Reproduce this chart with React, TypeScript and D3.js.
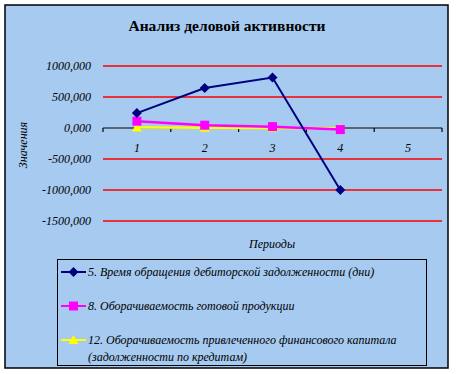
import React from 'react';
import * as d3 from 'd3';

const periods = ['1', '2', '3', '4', '5'];
const yTicks = [1000, 500, 0, -500, -1000, -1500];
const seriesNames = [
  '5. Время обращения дебиторской задолженности (дни)',
  '8. Оборачиваемость готовой продукции',
  '12. Оборачиваемость привлеченного финансового капитала',
];
const debtorDays = [240, 645, 815, -1000];
const goodsTurnover = [110, 45, 22, -25];
const capitalTurnover = [8, 3, 2, -6];

const colors = ['#000080', '#FF00FF', '#FFFF00'];
const serif = "'Liberation Serif', 'DejaVu Serif', serif";

const App: React.FC = () => {
  const W = 456, H = 374;
  const x = d3.scaleBand().domain(periods).range([103, 442]);
  const y = d3.scaleLinear().domain([-1500, 1000]).range([221, 66]);
  const line = d3.line<number>()
    .x((_, i) => x(periods[i])! + x.bandwidth() / 2)
    .y(d => y(d));
  const data = [debtorDays, goodsTurnover, capitalTurnover];
  const fmt = (v: number) => `${v},000`;
  const txt = { fontFamily: serif, fontStyle: 'italic', fontSize: 12 } as React.CSSProperties;

  const marker = (k: number, cx: number, cy: number, key: string) => {
    if (k === 0) return <path key={key} d={`M${cx},${cy - 5}L${cx + 5},${cy}L${cx},${cy + 5}L${cx - 5},${cy}Z`} fill={colors[0]} />;
    if (k === 1) return <rect key={key} x={cx - 4.5} y={cy - 4.5} width={9} height={9} fill={colors[1]} />;
    return <path key={key} d={`M${cx},${cy - 5}L${cx + 5},${cy + 4}L${cx - 5},${cy + 4}Z`} fill={colors[2]} />;
  };

  const legendY = [272, 306, 340];

  return (
    <svg width={W} height={H} style={{ position: 'absolute', left: 0, top: 0 }}>
      <rect x={0} y={0} width={W} height={H} fill="#fff" />
      <rect x={5} y={5} width={443} height={363} fill="#A6CAF0" stroke="#000" strokeWidth={1.5} />
      <text x={227} y={31} textAnchor="middle" style={{ fontFamily: serif, fontWeight: 'bold', fontSize: 15.5 }}>Анализ деловой активности</text>

      {yTicks.filter(t => t !== 0).map(t => (
        <line key={t} x1={103} x2={442} y1={y(t)} y2={y(t)} stroke="#FF0000" strokeWidth={1.5} />
      ))}
      <line x1={103} x2={442} y1={y(0)} y2={y(0)} stroke="#000" strokeWidth={1.2} />
      {[...periods.map(p => x(p)!), 442].map((px, i) => (
        <line key={i} x1={px} x2={px} y1={y(0)} y2={y(0) + 4} stroke="#000" strokeWidth={1.2} />
      ))}
      {yTicks.map(t => (
        <text key={t} x={91} y={y(t) + 4} textAnchor="end" style={txt}>{fmt(t)}</text>
      ))}
      {periods.map(p => (
        <text key={p} x={x(p)! + x.bandwidth() / 2} y={152} textAnchor="middle" style={txt}>{p}</text>
      ))}
      <text transform="translate(27,145) rotate(-90)" textAnchor="middle" style={txt}>Значения</text>
      <text x={272} y={248} textAnchor="middle" style={txt}>Периоды</text>

      {[2, 1, 0].map(k => (
        <g key={k}>
          <path d={line(data[k])!} fill="none" stroke={colors[k]} strokeWidth={k === 0 ? 2 : 2.5} />
          {data[k].map((v, i) => marker(k, x(periods[i])! + x.bandwidth() / 2, y(v), `${k}-${i}`))}
        </g>
      ))}

      <rect x={57.5} y={259.5} width={369} height={106} fill="#A6CAF0" stroke="#000" strokeWidth={1} />
      {legendY.map((ly, k) => (
        <g key={k}>
          <line x1={61} x2={86} y1={ly} y2={ly} stroke={colors[k]} strokeWidth={2} />
          {marker(k, 73.5, ly, `l${k}`)}
          <text x={88} y={ly + 4} style={txt}>{seriesNames[k]}</text>
        </g>
      ))}
      <text x={88} y={361} style={txt}>(задолженности по кредитам)</text>
    </svg>
  );
};

export default App;
